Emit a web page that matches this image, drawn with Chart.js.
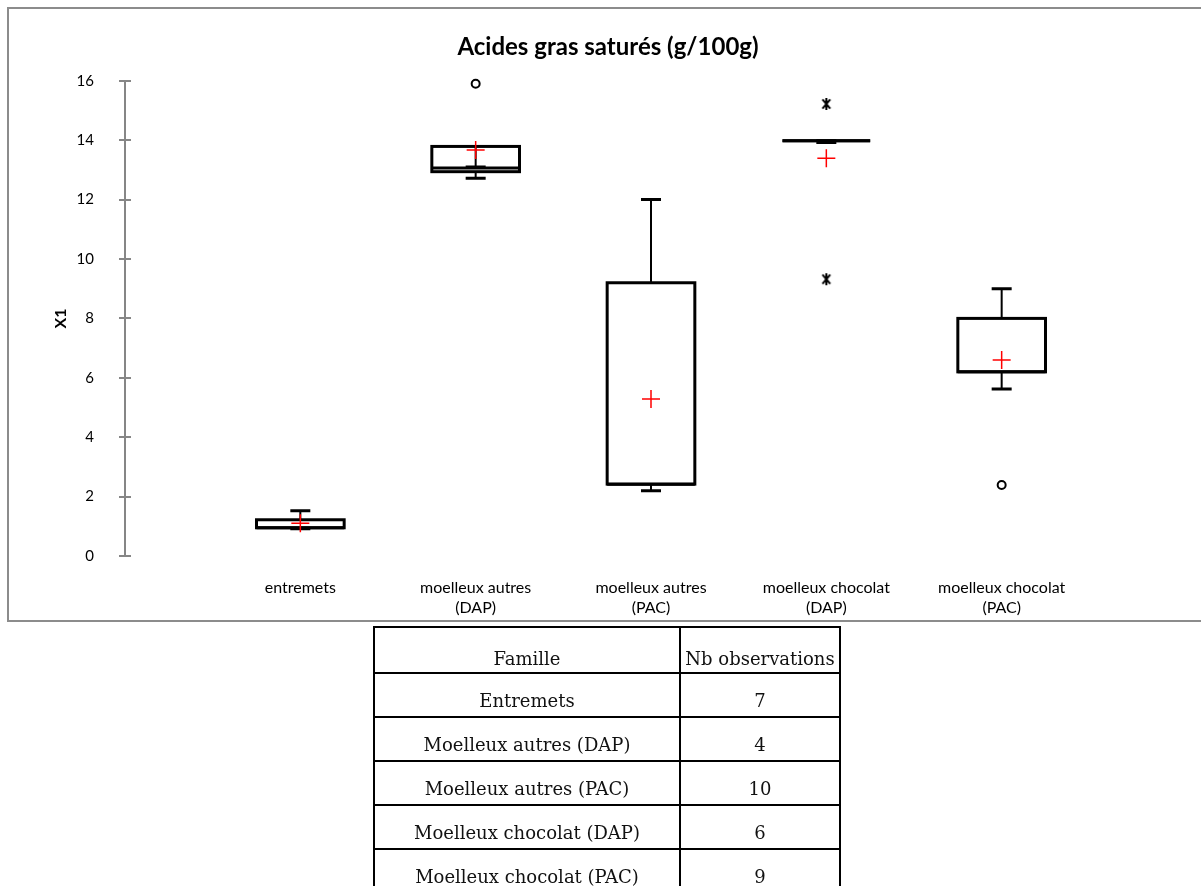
<!DOCTYPE html>
<html lang="fr">
<head>
<meta charset="utf-8">
<title>Acides gras saturés (g/100g)</title>
<script src="https://cdn.jsdelivr.net/npm/chart.js@4.4.1/dist/chart.umd.min.js"></script>
<style>
  html, body { margin: 0; padding: 0; background: #fff; width: 1201px; height: 886px; overflow: hidden; }
  #frame { position: absolute; left: 7px; top: 7px; width: 1220px; height: 615px; border: 2px solid #8c8c8c; box-sizing: border-box; }
  #wrap { position: absolute; left: 0; top: 0; width: 1201px; height: 640px; }
  #counts { position: absolute; left: 373px; top: 626px; border-collapse: collapse; table-layout: fixed;
            font-family: "DejaVu Serif", serif; font-size: 18px; color: #111; }
  #counts td { border: 2px solid #000; text-align: center; padding: 10px 0 0 0; height: 32px; line-height: 21px; white-space: nowrap; }
  #counts tr.head td { padding-top: 16px; height: 28px; }
</style>
</head>
<body>
<div id="frame"></div>
<div id="wrap"><canvas id="chart" width="1201" height="640"></canvas></div>
<table id="counts">
  <colgroup><col style="width:306px"><col style="width:160px"></colgroup>
  <tbody id="countsBody"></tbody>
</table>
<script>
// Families shown on the x axis (one box per family)
const categories = ['entremets', 'moelleux autres (DAP)', 'moelleux autres (PAC)', 'moelleux chocolat (DAP)', 'moelleux chocolat (PAC)'];
const axisLabels = [['entremets'], ['moelleux autres', '(DAP)'], ['moelleux autres', '(PAC)'], ['moelleux chocolat', '(DAP)'], ['moelleux chocolat', '(PAC)']];

// Box plot statistics, g/100g
const whiskerLow  = [0.92, 12.72, 2.20, 13.92, 5.62];
const q1          = [0.95, 12.94, 2.42, 13.98, 6.20];
const median      = [0.95, 13.06, 2.42, 13.98, 6.20];
const q3          = [1.22, 13.79, 9.20, 13.98, 8.00];
const whiskerHigh = [1.52, 13.10, 12.00, 13.98, 9.00];
const means       = [1.10, 13.67, 5.29, 13.39, 6.60];

// Points beyond the whiskers
const outliers = [[], [15.9], [], [], [2.39]];
const extremes = [[], [], [], [15.22, 9.32], []];

// Y axis ticks
const yTicks = [0, 2, 4, 6, 8, 10, 12, 14, 16];

// Observation counts per family
const tableFamilles = ['Entremets', 'Moelleux autres (DAP)', 'Moelleux autres (PAC)', 'Moelleux chocolat (DAP)', 'Moelleux chocolat (PAC)'];
const tableCounts = [7, 4, 10, 6, 9];

// Build the counts table
(function () {
  const body = document.getElementById('countsBody');
  const head = document.createElement('tr');
  head.className = 'head';
  head.innerHTML = '<td>Famille</td><td>Nb observations</td>';
  body.appendChild(head);
  tableFamilles.forEach((f, i) => {
    const tr = document.createElement('tr');
    const a = document.createElement('td'); a.textContent = f;
    const b = document.createElement('td'); b.textContent = tableCounts[i];
    tr.appendChild(a); tr.appendChild(b);
    body.appendChild(tr);
  });
})();

// Asterisk marker used for extreme values
function asteriskMarker() {
  const c = document.createElement('canvas');
  c.width = 14; c.height = 14;
  const g = c.getContext('2d');
  g.strokeStyle = '#000';
  g.lineWidth = 2;
  g.lineCap = 'butt';
  g.translate(7, 7);
  [90, 50, 130].forEach(deg => {
    const r = deg * Math.PI / 180;
    g.beginPath();
    g.moveTo(-Math.cos(r) * 6, -Math.sin(r) * 6);
    g.lineTo(Math.cos(r) * 6, Math.sin(r) * 6);
    g.stroke();
  });
  return c;
}

const meanPoints = means.map((m, i) => ({ x: i + 1, y: m }));
const outlierPoints = [];
outliers.forEach((list, i) => list.forEach(v => outlierPoints.push({ x: i + 1, y: v })));
const extremePoints = [];
extremes.forEach((list, i) => list.forEach(v => extremePoints.push({ x: i + 1, y: v })));

// Draws boxes, medians and whiskers from the statistics arrays
const boxPlotPlugin = {
  id: 'boxPlot',
  beforeDatasetsDraw(chart) {
    const { ctx, scales: { x, y } } = chart;
    ctx.save();
    // cross tick marks on the y axis
    const ax = chart.chartArea.left;
    ctx.strokeStyle = '#868686';
    ctx.lineWidth = 2;
    yTicks.forEach(t => {
      const py = Math.round(y.getPixelForValue(t));
      ctx.beginPath();
      ctx.moveTo(ax - 6, py);
      ctx.lineTo(ax + 6, py);
      ctx.stroke();
    });
    categories.forEach((c, i) => {
      const cx = x.getPixelForValue(i + 1);
      const half = x.getPixelForValue(i + 1.25) - cx;
      const capHalf = 10;
      const yq1 = y.getPixelForValue(q1[i]);
      const yq3 = y.getPixelForValue(q3[i]);
      const ymed = y.getPixelForValue(median[i]);
      const ylo = y.getPixelForValue(whiskerLow[i]);
      const yhi = y.getPixelForValue(whiskerHigh[i]);
      // box
      ctx.fillStyle = '#fff';
      ctx.strokeStyle = '#000';
      ctx.lineWidth = 3;
      ctx.fillRect(cx - half, yq3, half * 2, yq1 - yq3);
      ctx.strokeRect(cx - half, yq3, half * 2, yq1 - yq3);
      // median
      ctx.beginPath();
      ctx.moveTo(cx - half, ymed);
      ctx.lineTo(cx + half, ymed);
      ctx.stroke();
      // whiskers
      ctx.lineWidth = 2;
      ctx.beginPath();
      ctx.moveTo(cx, yq1); ctx.lineTo(cx, ylo);
      ctx.moveTo(cx, yq3); ctx.lineTo(cx, yhi);
      ctx.stroke();
      // caps
      ctx.lineWidth = 3;
      ctx.beginPath();
      ctx.moveTo(cx - capHalf, ylo); ctx.lineTo(cx + capHalf, ylo);
      ctx.moveTo(cx - capHalf, yhi); ctx.lineTo(cx + capHalf, yhi);
      ctx.stroke();
    });
    ctx.restore();
  }
};

new Chart(document.getElementById('chart'), {
  type: 'scatter',
  data: {
    datasets: [
      { label: 'Moyenne', data: meanPoints, pointStyle: 'cross', radius: 9, borderColor: '#ff0000', borderWidth: 1.5, backgroundColor: '#ff0000' },
      { label: 'Valeurs atypiques', data: outlierPoints, pointStyle: 'circle', radius: 4, borderColor: '#000', borderWidth: 2, backgroundColor: '#fff' },
      { label: 'Valeurs extrêmes', data: extremePoints, pointStyle: asteriskMarker(), radius: 7 }
    ]
  },
  options: {
    responsive: false,
    animation: false,
    devicePixelRatio: 1,
    clip: false,
    layout: { padding: { left: 39, right: 24, top: 0, bottom: 0 } },
    plugins: {
      legend: { display: false },
      tooltip: { enabled: false },
      title: {
        display: true,
        text: 'Acides gras saturés (g/100g)',
        color: '#000',
        font: { family: 'Lato', size: 24, weight: 'bold', lineHeight: 1.2 },
        padding: { top: 33, bottom: 19 }
      }
    },
    scales: {
      x: {
        type: 'linear',
        min: 0, max: 6,
        offset: false,
        grid: { display: false },
        border: { display: false },
        ticks: {
          stepSize: 1,
          autoSkip: false,
          maxRotation: 0,
          color: '#000',
          padding: 13,
          font: { family: 'Lato', size: 16, lineHeight: 1.3 },
          callback: v => (v >= 1 && v <= 5 && Number.isInteger(v)) ? axisLabels[v - 1] : ''
        },
        afterFit: s => { s.height = 84; }
      },
      y: {
        min: 0, max: 16,
        grid: { display: false },
        border: { display: true, color: '#868686', width: 2 },
        afterBuildTicks: s => { s.ticks = yTicks.map(v => ({ value: v })); },
        ticks: { color: '#000', padding: 23, font: { family: 'Lato', size: 15 } },
        title: { display: true, text: 'X1', color: '#000', font: { family: 'Lato', size: 16, weight: 'bold' }, padding: { top: 12, bottom: 0 } },
        afterFit: s => { s.width = 86; }
      }
    }
  },
  plugins: [boxPlotPlugin]
});
</script>
</body>
</html>
